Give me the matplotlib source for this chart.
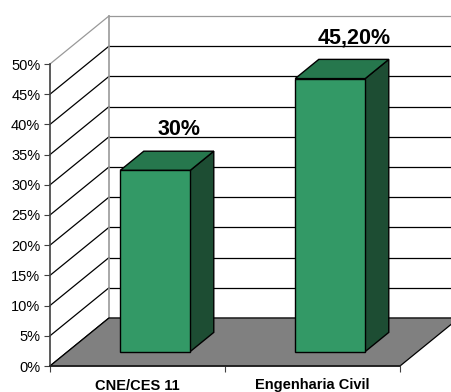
import matplotlib
matplotlib.use('Agg')
import matplotlib.pyplot as plt
from matplotlib.patches import Polygon

plt.rcParams['font.family'] = 'Liberation Sans'

# Chart data
categories = ['CNE/CES 11', 'Engenharia Civil']
values = [30, 45.2]
value_labels = ['30%', '45,20%']
y_ticks = [0, 5, 10, 15, 20, 25, 30, 35, 40, 45, 50]
y_tick_labels = ['0%', '5%', '10%', '15%', '20%', '25%', '30%', '35%', '40%', '45%', '50%']

# Depth of the 3D box (data units) and bar geometry
dx, dy = 0.337, 7.95
bar_w = 0.4
front, back = 0.3, 0.7

face_col = '#339966'
top_col = '#26774d'
side_col = '#1d4d33'
floor_col = '#808080'
wall_edge = '#999999'

fig = plt.figure(figsize=(4.51, 3.92), dpi=100)
ax = fig.add_axes([50 / 451, 26 / 392, 350 / 451, 302 / 392])
n = len(categories)
ymax = y_ticks[-1]
ax.set_xlim(0, n)
ax.set_ylim(0, ymax)
ax.set_facecolor('none')


def poly(pts, **kw):
    ax.add_patch(Polygon(pts, closed=True, clip_on=False, **kw))


# back wall and side wall with gridlines
poly([(dx, dy), (n + dx, dy), (n + dx, ymax + dy), (dx, ymax + dy)],
     fc='white', ec='none', zorder=0)
for t in y_ticks:
    col = wall_edge if t == ymax else 'black'
    ax.plot([dx, n + dx], [t + dy, t + dy], color=col, lw=0.9, clip_on=False, zorder=1)
    ax.plot([0, dx], [t, t + dy], color=col, lw=0.9, clip_on=False, zorder=1)
ax.plot([dx, dx], [dy, ymax + dy], color=wall_edge, lw=1.2, clip_on=False, zorder=1)

# floor
poly([(0, 0), (n, 0), (n + dx, dy), (dx, dy)], fc=floor_col, ec='black', lw=0.9, zorder=1.5)

# bars
for i, v in enumerate(values):
    c = i + 0.5
    x0 = c - bar_w / 2 + front * dx
    x1 = x0 + bar_w
    y0 = front * dy
    y1 = v + front * dy
    ddx = (back - front) * dx
    ddy = (back - front) * dy
    poly([(x1, y0), (x1 + ddx, y0 + ddy), (x1 + ddx, y1 + ddy), (x1, y1)],
         fc=side_col, ec='black', lw=1, zorder=3)
    poly([(x0, y1), (x1, y1), (x1 + ddx, y1 + ddy), (x0 + ddx, y1 + ddy)],
         fc=top_col, ec='black', lw=1, zorder=3)
    poly([(x0, y0), (x1, y0), (x1, y1), (x0, y1)],
         fc=face_col, ec='black', lw=1, zorder=4)
    ax.annotate(value_labels[i], xy=(c + back * dx, v + back * dy),
                xytext=(0, 11.5), textcoords='offset points',
                ha='center', va='baseline', fontsize=15.5, fontweight='bold',
                annotation_clip=False, zorder=5)

# axes
for s in ['top', 'right']:
    ax.spines[s].set_visible(False)
ax.spines['left'].set_color('#404040')
ax.spines['left'].set_linewidth(1.2)
ax.spines['bottom'].set_color('#202020')
ax.spines['bottom'].set_linewidth(1.2)
ax.spines['left'].set_zorder(2)
ax.spines['bottom'].set_zorder(2)

ax.set_yticks(y_ticks)
ax.set_yticklabels(y_tick_labels, fontsize=10.5)
ax.set_xticks(range(n + 1))
ax.set_xticklabels([])
ax.set_xticks([i + 0.5 for i in range(n)], minor=True)
ax.set_xticklabels(categories, minor=True, fontsize=10.5, fontweight='bold')
ax.tick_params(axis='both', which='major', direction='out', length=4,
               color='#404040', pad=3)
ax.tick_params(axis='x', which='minor', length=0, pad=9)

fig.savefig('out.png', dpi=100)
